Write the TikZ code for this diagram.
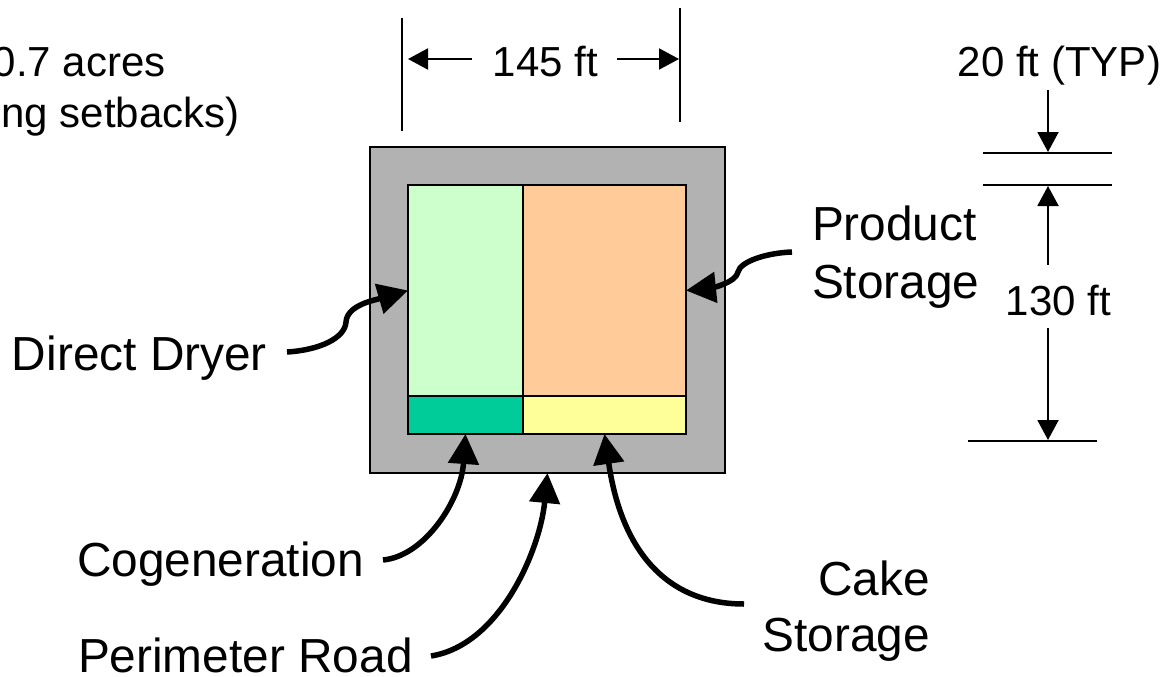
\documentclass[tikz,border=0pt]{standalone}
\usepackage{fontspec}
\setmainfont{Liberation Sans}
\usetikzlibrary{arrows.meta}
\definecolor{roadgray}{HTML}{B2B2B2}
\definecolor{dryergreen}{HTML}{CCFFCC}
\definecolor{prodorange}{HTML}{FFCC99}
\definecolor{cakeyellow}{HTML}{FFFF99}
\definecolor{cogengreen}{HTML}{00CC99}
\tikzset{
  x=1pt,y=-1pt,
  area/.style={draw=black,line width=2pt,inner sep=0pt,outer sep=0pt,anchor=north west},
  biglabel/.style={font=\fontsize{47.8}{56}\selectfont,inner sep=0pt,outer sep=0pt},
  dimlabel/.style={font=\fontsize{42}{50}\selectfont,inner sep=0pt,outer sep=0pt},
  callout/.style={line width=5.5pt,-{Triangle[length=30pt,width=30pt]}},
  dimarrow/.style={line width=2pt,-{Triangle[length=20pt,width=21pt]}},
  dimline/.style={line width=2pt},
}
\begin{document}
\begin{tikzpicture}
\useasboundingbox (0,0) rectangle (1167,677);
\clip (0,0) rectangle (1167,677);
% areas
\node[area,fill=roadgray,minimum width=355pt,minimum height=326pt] (site) at (370,147) {};
\node[area,fill=dryergreen,minimum width=115pt,minimum height=211pt] (dryer) at (408,185) {};
\node[area,fill=prodorange,minimum width=163pt,minimum height=211pt] (product) at (523,185) {};
\node[area,fill=cogengreen,minimum width=115pt,minimum height=38pt] (cogen) at (408,396) {};
\node[area,fill=cakeyellow,minimum width=163pt,minimum height=38pt] (cake) at (523,396) {};
% labels
\node[dimlabel,anchor=base east] (acres) at (165.5,77) {0.7 acres};
\node[dimlabel,anchor=base east] (setbacks) at (239.5,127) {ng setbacks)};
\node[dimlabel,anchor=base] (w145) at (545.5,77) {145 ft};
\node[dimlabel,anchor=base east] (typ) at (1161,77) {20 ft (TYP)};
\node[dimlabel,anchor=base] (h130) at (1058.5,315) {130 ft};
\node[biglabel,anchor=base west] (lproduct) at (812,240) {Product};
\node[biglabel,anchor=base west] (lstorage) at (812,298) {Storage};
\node[biglabel,anchor=base west] (ldryer) at (12,370) {Direct Dryer};
\node[biglabel,anchor=base west] (lcogen) at (77,576) {Cogeneration};
\node[biglabel,anchor=base west] (lroad) at (78,672) {Perimeter Road};
\node[biglabel,anchor=base east] (lcake) at (930,595) {Cake};
\node[biglabel,anchor=base east] (lcakes) at (930,651) {Storage};
% free ends
\coordinate (fdryer) at (287,352);
\coordinate (fproduct) at (792,252);
\coordinate (fcogen) at (383,560);
\coordinate (froad) at (431,656);
\coordinate (fcake) at (744,604);
% callouts
\draw[callout] (fdryer) .. controls (320,350) and (345,338) .. (346,322) .. controls (347,305) and (375,300) .. (dryer.west);
\draw[callout] (fproduct) .. controls (765,253) and (740,262) .. (738,272) .. controls (736,283) and (710,288) .. (product.east);
\draw[callout] (fcogen) .. controls (425,556) and (461,500) .. (cogen.south);
\draw[callout] (froad) .. controls (500,645) and (540,550) .. (site.south);
\draw[callout] (fcake) .. controls (670,604) and (622,555) .. (cake.south);
% dimension lines
\coordinate (wl1) at (402,18);\coordinate (wl2) at (402,131);
\coordinate (wr1) at (679.5,8);\coordinate (wr2) at (679.5,122);
\draw[dimline] (wl1) -- (wl2);
\draw[dimline] (wr1) -- (wr2);
\coordinate (wa1) at (472,59);\coordinate (wa1t) at (408,59);
\coordinate (wa2) at (617,59);\coordinate (wa2t) at (679,59);
\draw[dimarrow] (wa1) -- (wa1t);
\draw[dimarrow] (wa2) -- (wa2t);
\coordinate (t1a) at (983,153);\coordinate (t1b) at (1112,153);
\coordinate (t2a) at (983,185);\coordinate (t2b) at (1112,185);
\coordinate (t3a) at (968,441);\coordinate (t3b) at (1097,441);
\draw[dimline] (t1a) -- (t1b);
\draw[dimline] (t2a) -- (t2b);
\draw[dimline] (t3a) -- (t3b);
\coordinate (a1) at (1048,90);\coordinate (a1t) at (1048,152);
\coordinate (a2) at (1048,265);\coordinate (a2t) at (1048,186);
\coordinate (a3) at (1048,328);\coordinate (a3t) at (1048,440);
\draw[dimarrow] (a1) -- (a1t);
\draw[dimarrow] (a2) -- (a2t);
\draw[dimarrow] (a3) -- (a3t);
\end{tikzpicture}
\end{document}
